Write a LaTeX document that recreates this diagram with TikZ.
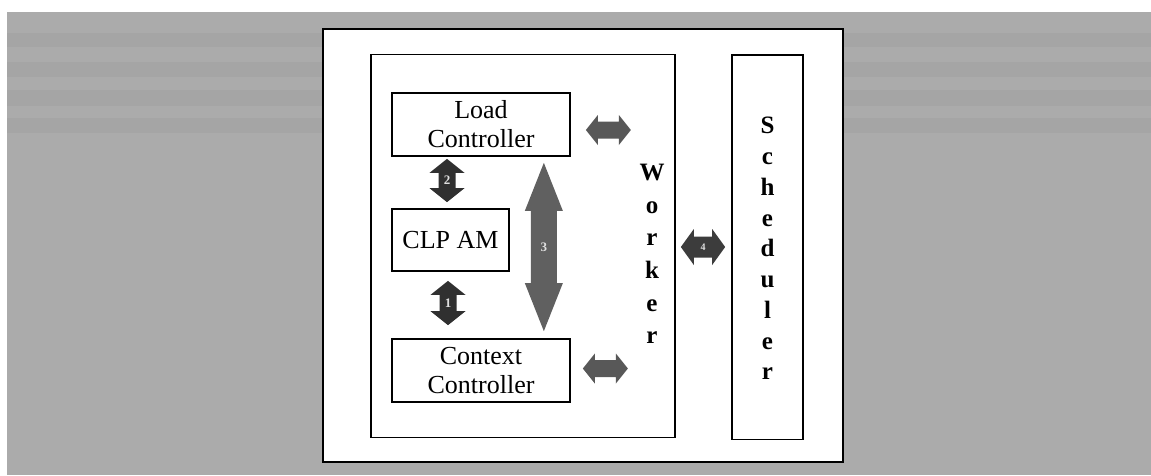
\documentclass[tikz,border=0pt]{standalone}
\usepackage{fontspec}
\setmainfont{Liberation Serif}
\usetikzlibrary{calc}

\definecolor{paper}{RGB}{171,171,171}
\definecolor{darkarrow}{RGB}{48,48,48}
\definecolor{midarrow}{RGB}{96,96,96}
\definecolor{sidearrow}{RGB}{88,88,88}
\definecolor{busarrow}{RGB}{60,60,60}

% Double-headed block arrow, vertical: top point #2, bottom point #3
% #4 shaft half width, #5 head half width, #6 head length
\newcommand\vblockarrow[6]{%
  \fill[#1] let \p1=#2, \p2=#3 in
    (\x1,\y1) -- (\x1+#5,\y1-#6) -- (\x1+#4,\y1-#6) -- (\x2+#4,\y2+#6)
    -- (\x2+#5,\y2+#6) -- (\x2,\y2) -- (\x2-#5,\y2+#6) -- (\x2-#4,\y2+#6)
    -- (\x1-#4,\y1-#6) -- (\x1-#5,\y1-#6) -- cycle;}
% Double-headed block arrow, horizontal: left point #2, right point #3
\newcommand\hblockarrow[6]{%
  \fill[#1] let \p1=#2, \p2=#3 in
    (\x1,\y1) -- (\x1+#6,\y1+#5) -- (\x1+#6,\y1+#4) -- (\x2-#6,\y2+#4)
    -- (\x2-#6,\y2+#5) -- (\x2,\y2) -- (\x2-#6,\y2-#5) -- (\x2-#6,\y2-#4)
    -- (\x1+#6,\y1-#4) -- (\x1+#6,\y1-#5) -- cycle;}

\begin{document}
\begin{tikzpicture}[x=1pt,y=-1pt,
  box/.style={draw=black, line width=1.7pt, inner sep=0pt, fill=white},
  boxtext/.style={font=\fontsize{26}{29}\selectfont, align=center},
  arrownum/.style={font=\bfseries\fontsize{13}{13}\selectfont, text=black!12, inner sep=0pt},
]
\useasboundingbox (0,0) rectangle (1151,475);
% page and scanned gray backdrop
\fill[white] (0,0) rectangle (1151,475);
\fill[paper] (7,12) rectangle (1151,475);
\foreach \ya/\yb in {33/47, 62/77, 90/106, 118/133}
  \fill[black, opacity=0.03] (7,\ya) rectangle (1151,\yb);

% frames
\node[box, line width=2.4pt, minimum width=520pt, minimum height=433pt] (frame) at (583,245.5) {};
\node[box, minimum width=304pt, minimum height=383pt] (worker) at (523,246) {};
\node[box, minimum width=71pt, minimum height=384.5pt] (sched) at (767.5,247.25) {};

% components inside the worker
\node[box, boxtext, minimum width=178pt, minimum height=63pt] (load) at (481,124.5) {Load\\Controller};
\node[box, boxtext, minimum width=117pt, minimum height=62pt] (clp) at (450.5,240) {CLP AM};
\node[box, boxtext, minimum width=178pt, minimum height=63pt] (ctx) at (481,370.5) {Context\\Controller};

% vertical labels
\node[font=\bfseries\fontsize{25}{32.6}\selectfont, align=center] (workerlbl) at (652,254) {W\\o\\r\\k\\e\\r};
\node[font=\bfseries\fontsize{25}{30.75}\selectfont, align=center] (schedlbl) at (767.5,248.5) {S\\c\\h\\e\\d\\u\\l\\e\\r};

% arrow end points
\coordinate (a2t) at ($(load.south -| clp.north)+(-3.5,2)$);
\coordinate (a2b) at ($(clp.north)+(-3.5,-6)$);
\coordinate (a1t) at ($(clp.south)+(-2.5,9)$);
\coordinate (a1b) at ($(ctx.north -| clp.south)+(-2.5,-13)$);
\coordinate (a3t) at ($(load.south east)+(-27,6)$);
\coordinate (a3b) at ($(ctx.north east)+(-27,-7)$);
\coordinate (l1s) at ($(load.east)+(15,5.5)$);
\coordinate (l1e) at ($(load.east)+(60,5.5)$);
\coordinate (c1s) at ($(ctx.east)+(12,-2)$);
\coordinate (c1e) at ($(ctx.east)+(57,-2)$);
\coordinate (a4s) at ($(worker.east)+(5,1)$);
\coordinate (a4e) at ($(sched.west |- a4s)+(-6,0)$);

% block arrows
\vblockarrow{darkarrow}{(a2t)}{(a2b)}{8.5pt}{17.5pt}{14pt}
\vblockarrow{darkarrow}{(a1t)}{(a1b)}{8.5pt}{17.5pt}{14pt}
\vblockarrow{midarrow}{(a3t)}{(a3b)}{13pt}{19pt}{48pt}
\hblockarrow{sidearrow}{(l1s)}{(l1e)}{8.5pt}{15pt}{12pt}
\hblockarrow{sidearrow}{(c1s)}{(c1e)}{8.5pt}{15pt}{12pt}
\hblockarrow{busarrow}{(a4s)}{(a4e)}{10.5pt}{18pt}{13pt}

% arrow numbers
\node[arrownum] (n2) at ($(a2t)!0.5!(a2b)$) {2};
\node[arrownum] (n1) at ($(a1t)!0.5!(a1b)$) {1};
\node[arrownum] (n3) at ($(a3t)!0.5!(a3b)$) {3};
\node[arrownum, font=\bfseries\fontsize{10}{10}\selectfont] (n4) at ($(a4s)!0.5!(a4e)$) {4};
\end{tikzpicture}
\end{document}
